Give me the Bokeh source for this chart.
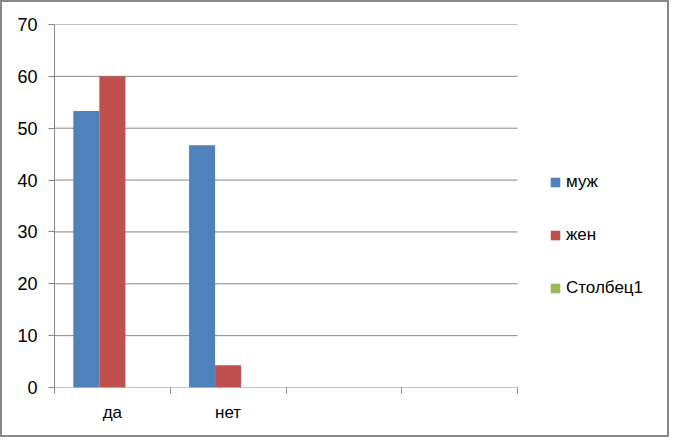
import numpy as np
from bokeh.plotting import figure
from bokeh.models import Range1d, FixedTicker, Legend, LegendItem, ColumnDataSource
from bokeh.embed import file_html
from bokeh.resources import INLINE

categories = ["да", "нет", "", ""]
series_names = ["муж", "жен", "Столбец1"]
muzh = [53.3, 46.7, 0, 0]
zhen = [60.0, 4.3, 0, 0]
stolbets1 = [0, 0, 0, 0]
colors = ["#4F81BD", "#C0504D", "#9BBB59"]
y_ticks = [0, 10, 20, 30, 40, 50, 60, 70]

FONT = "Liberation Sans"
GRAY = "#868686"

n = len(categories)
# plot area is 463 px for the categories; the frame is widened to host the legend
x_end = n * 615 / 463

p = figure(width=669, height=437, output_backend="svg", toolbar_location=None,
           x_range=Range1d(0, x_end), y_range=Range1d(0, 70))
p.min_border_left = 52
p.min_border_right = 2
p.min_border_top = 22
p.min_border_bottom = 52
p.outline_line_color = None
p.background_fill_color = "white"
p.border_fill_color = "white"
p.styles = {"border": "2px solid #898989"}

# gridlines (limited to the category area)
p.segment(x0=[0] * len(y_ticks), x1=[n] * len(y_ticks), y0=y_ticks, y1=y_ticks,
          line_color=GRAY, line_width=1)

centers = np.arange(n) + 0.5
bw = 0.225
offsets = [-bw, 0.0, bw]
renderers = []
for vals, off, col in zip([muzh, zhen, stolbets1], offsets, colors):
    src = ColumnDataSource(dict(x=centers + off, top=vals))
    r = p.vbar(x="x", top="top", bottom=0, width=bw, source=src,
               fill_color=col, line_color=None)
    renderers.append(r)

# x axis
p.xaxis.ticker = FixedTicker(ticks=list(centers), minor_ticks=list(range(n + 1)))
p.xaxis.major_label_overrides = {float(c): lab for c, lab in zip(centers, categories)}
p.xaxis.major_tick_line_color = None
p.xaxis.minor_tick_line_color = GRAY
p.xaxis.minor_tick_out = 6
p.xaxis.minor_tick_in = 0
p.xaxis.axis_line_color = None
p.xaxis.major_label_standoff = 9
p.xaxis.major_label_text_font = FONT
p.xaxis.major_label_text_font_size = "17px"
p.xaxis.major_label_text_color = "black"

# y axis
p.yaxis.ticker = FixedTicker(ticks=y_ticks, minor_ticks=[])
p.yaxis.axis_line_color = GRAY
p.yaxis.major_tick_line_color = GRAY
p.yaxis.major_tick_out = 6
p.yaxis.major_tick_in = 0
p.yaxis.minor_tick_line_color = None
p.yaxis.major_label_standoff = 11
p.yaxis.major_label_text_font = FONT
p.yaxis.major_label_text_font_size = "18px"
p.yaxis.major_label_text_color = "black"

p.xgrid.grid_line_color = None
p.ygrid.grid_line_color = None

legend = Legend(items=[LegendItem(label=s, renderers=[r]) for s, r in zip(series_names, renderers)],
                location=(495, 89))
legend.glyph_width = 12
legend.glyph_height = 12
legend.label_standoff = 5
legend.spacing = 33
legend.padding = 0
legend.margin = 0
legend.border_line_color = None
legend.background_fill_alpha = 0
legend.label_text_font = FONT
legend.label_text_font_size = "17px"
legend.label_text_color = "black"
p.add_layout(legend, "center")

open("out.html", "w").write(file_html(p, INLINE))
